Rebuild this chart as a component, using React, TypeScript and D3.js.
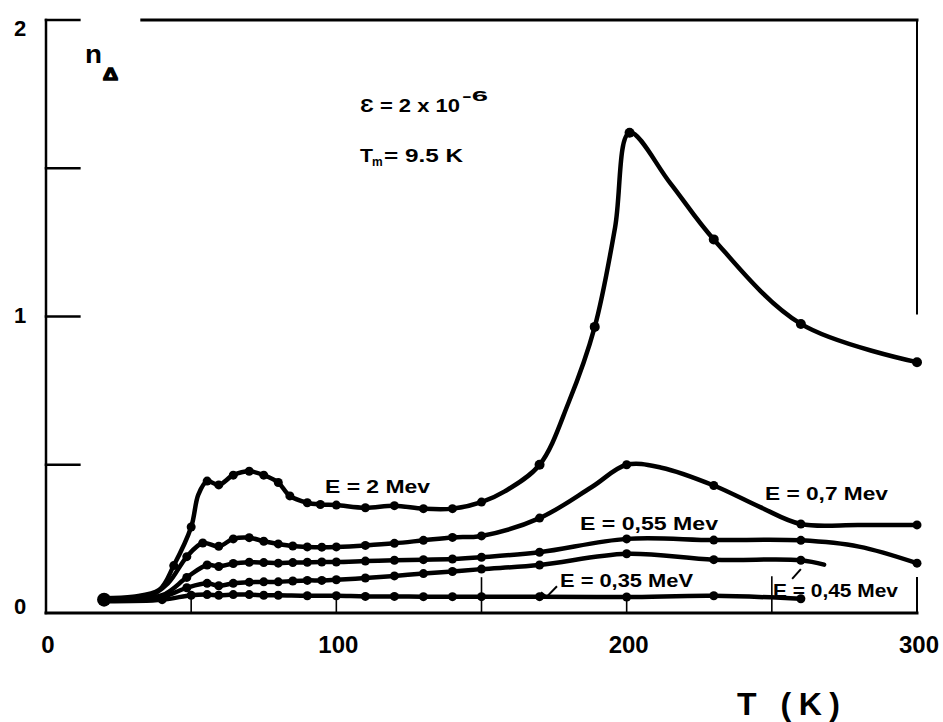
import React from 'react';
import * as d3 from 'd3';

// Axis ticks
const xTicks = [50, 100, 150, 200, 250];
const xTickLen = [15, 16, 35, 13, 36];
const xTickLabels = [0, 100, 200, 300];
const yTicks = [0.5, 1, 1.5, 2];
const yTickLabels = [0, 1, 2];
const yLabelShift = [-7, -1, 8];

// E = 2 MeV
const e2T = [20, 30, 39, 44, 50, 52.5, 55.5, 59.5, 64.5, 70, 75, 80, 84, 90, 94.5, 100, 110, 120, 130, 140, 150, 158, 170, 180, 189, 196, 201, 215, 230, 260, 300];
const e2N = [0.05, 0.055, 0.078, 0.16, 0.29, 0.40, 0.445, 0.432, 0.465, 0.478, 0.465, 0.44, 0.395, 0.372, 0.366, 0.364, 0.355, 0.362, 0.352, 0.352, 0.374, 0.41, 0.50, 0.71, 0.965, 1.30, 1.62, 1.45, 1.26, 0.975, 0.846];
const e2Plain = [30, 39, 52.5, 158, 180, 196, 215];

// E = 0,7 MeV
const e07T = [20, 35, 42, 48.5, 54, 59.5, 64.5, 70, 75, 80, 85, 90, 95, 100, 110, 120, 130, 140, 150, 170, 188, 200, 212, 230, 246, 260, 280, 300];
const e07N = [0.045, 0.055, 0.1, 0.19, 0.236, 0.225, 0.25, 0.254, 0.242, 0.233, 0.226, 0.223, 0.222, 0.223, 0.228, 0.235, 0.245, 0.255, 0.26, 0.32, 0.425, 0.5, 0.49, 0.43, 0.357, 0.3, 0.297, 0.297];
const e07Plain = [35, 42, 188, 212, 246, 280];

// E = 0,55 MeV
const e055T = [20, 40, 48.5, 55.5, 59.5, 64.5, 70, 75, 80, 85, 90, 95, 100, 110, 120, 130, 140, 150, 170, 200, 230, 260, 280, 300];
const e055N = [0.045, 0.06, 0.12, 0.162, 0.157, 0.167, 0.171, 0.17, 0.168, 0.17, 0.171, 0.172, 0.172, 0.175, 0.178, 0.18, 0.182, 0.188, 0.205, 0.25, 0.246, 0.245, 0.224, 0.168];
const e055Plain = [40, 280];

// E = 0,45 MeV
const e045T = [20, 40, 48.5, 55.5, 59.5, 64.5, 70, 75, 80, 85, 90, 95, 100, 110, 120, 130, 140, 150, 170, 200, 230, 260, 268];
const e045N = [0.045, 0.055, 0.085, 0.1, 0.092, 0.1, 0.104, 0.105, 0.105, 0.108, 0.11, 0.11, 0.112, 0.118, 0.125, 0.133, 0.14, 0.148, 0.162, 0.2, 0.18, 0.178, 0.163];
const e045Plain = [40, 268];

// E = 0,35 MeV
const e035T = [20, 40, 50, 55.5, 59.5, 64.5, 70, 75, 80, 90, 100, 110, 120, 130, 140, 150, 170, 200, 230, 260];
const e035N = [0.04, 0.045, 0.06, 0.062, 0.06, 0.062, 0.062, 0.06, 0.06, 0.058, 0.058, 0.056, 0.056, 0.055, 0.055, 0.055, 0.055, 0.054, 0.058, 0.048];
const e035Plain: number[] = [];

const seriesT = [e2T, e07T, e055T, e045T, e035T];
const seriesN = [e2N, e07N, e055N, e045N, e035N];
const seriesPlain = [e2Plain, e07Plain, e055Plain, e045Plain, e035Plain];

const FONT = "'Liberation Sans', Arial, sans-serif";

export default function App() {
  const x = d3.scaleLinear().domain([0, 300]).range([46, 917]);
  const y = d3.scaleLinear().domain([0, 2]).range([613, 20]);
  const line = d3
    .line<[number, number]>()
    .x((d) => x(d[0]))
    .y((d) => y(d[1]))
    .curve(d3.curveCatmullRom.alpha(0.5));

  return (
    <svg
      width={943}
      height={722}
      viewBox="0 0 943 722"
      style={{ position: 'absolute', left: 0, top: 0, background: '#fff', display: 'block' }}
      fontFamily={FONT}
      fontWeight="bold"
    >
      <rect x={0} y={0} width={943} height={722} fill="#fff" />
      {/* frame */}
      <g stroke="#000" fill="none" strokeLinecap="square">
        <line x1={x(0)} y1={y(0)} x2={x(0)} y2={y(2)} strokeWidth={2.5} />
        <line x1={x(0)} y1={y(0)} x2={x(300)} y2={y(0)} strokeWidth={3} />
        <line x1={x(33)} y1={y(2)} x2={x(300)} y2={y(2)} strokeWidth={3} />
        <line x1={x(300)} y1={y(2)} x2={x(300)} y2={y(1.01)} strokeWidth={2} />
        <line x1={x(300)} y1={y(0.118)} x2={x(300)} y2={y(0)} strokeWidth={2} />
        {yTicks.map((t) => (
          <line key={'yt' + t} x1={x(0)} x2={x(11.5)} y1={y(t)} y2={y(t)} strokeWidth={2.5} />
        ))}
        {xTicks.map((t, i) => (
          <line key={'xt' + t} x1={x(t)} x2={x(t)} y1={y(0)} y2={y(0) - xTickLen[i]} strokeWidth={1.6} />
        ))}
      </g>

      {/* tick labels */}
      {yTickLabels.map((t, i) => (
        <text key={'yl' + t} x={20} y={y(t) + yLabelShift[i]} fontSize={22} textAnchor="middle" dominantBaseline="central">
          {t}
        </text>
      ))}
      {xTickLabels.map((t) => (
        <text key={'xl' + t} x={x(t) + 2} y={653} fontSize={24} textAnchor="middle">
          {t}
        </text>
      ))}

      {/* axis titles */}
      <text x={85} y={63} fontSize={26} textLength={17} lengthAdjust="spacingAndGlyphs">n</text>
      <text x={103} y={80} fontSize={17} stroke="#000" strokeWidth={1.5} textLength={15} lengthAdjust="spacingAndGlyphs">Δ</text>
      <text x={737} y={715} fontSize={32} textLength={103} lengthAdjust="spacing">T (K)</text>

      {/* condition annotations */}
      <text x={360} y={112} fontSize={19} textLength={100} lengthAdjust="spacingAndGlyphs">Ɛ = 2 x 10</text>
      <text x={462} y={101} fontSize={14} textLength={26} lengthAdjust="spacingAndGlyphs">-6</text>
      <text x={360} y={162} fontSize={18} textLength={13} lengthAdjust="spacingAndGlyphs">T</text>
      <text x={372} y={166} fontSize={12}>m</text>
      <text x={384} y={162} fontSize={18} textLength={79} lengthAdjust="spacingAndGlyphs">= 9.5 K</text>

      {/* curves */}
      <g fill="none" stroke="#000" strokeWidth={4.5} strokeLinejoin="round" strokeLinecap="round">
        {seriesT.map((ts, si) => (
          <path key={'s' + si} d={line(ts.map((t, j) => [t, seriesN[si][j]] as [number, number])) || ''} />
        ))}
      </g>
      <g fill="#000">
        {seriesT.map((ts, si) =>
          ts.map((t, j) =>
            seriesPlain[si].includes(t) ? null : (
              <circle key={'d' + si + '-' + j} cx={x(t)} cy={y(seriesN[si][j])} r={si === 0 && t >= 170 ? 5 : 4.5} />
            )
          )
        )}
        <circle cx={x(20)} cy={y(0.045)} r={7} />
      </g>

      {/* curve labels */}
      <g fontSize={18}>
        <text x={325} y={493} textLength={105} lengthAdjust="spacingAndGlyphs">E = 2 Mev</text>
        <text x={765} y={500} textLength={123} lengthAdjust="spacingAndGlyphs">E = 0,7 Mev</text>
        <text x={580} y={530} textLength={138} lengthAdjust="spacingAndGlyphs">E = 0,55 Mev</text>
        <text x={560} y={587} textLength={133} lengthAdjust="spacingAndGlyphs">E = 0,35 MeV</text>
        <text x={773} y={597} textLength={125} lengthAdjust="spacingAndGlyphs">E = 0,45 Mev</text>
      </g>
      {/* small pointers */}
      <g stroke="#000" strokeWidth={2} fill="none">
        <path d={`M${x(170.5)},${y(0.07)} L${x(172.5)},${y(0.055)} L${x(176)},${y(0.09)}`} />
        <path d={`M${x(257)},${y(0.115)} L${x(260)},${y(0.148)}`} />
      </g>
    </svg>
  );
}
